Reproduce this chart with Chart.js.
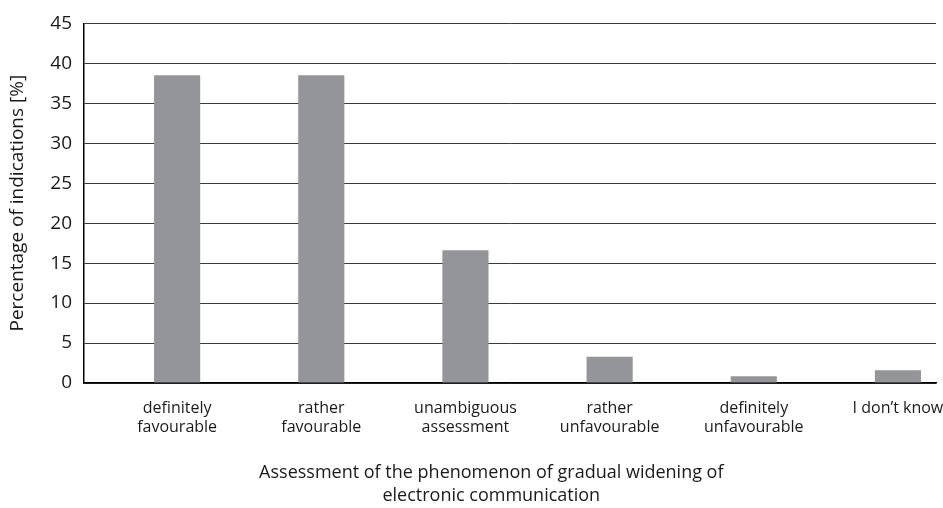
<!DOCTYPE html>
<html>
<head>
<meta charset="utf-8">
<script src="https://cdn.jsdelivr.net/npm/chart.js@4.4.0/dist/chart.umd.min.js"></script>
<style>
    html, body { margin: 0; padding: 0; background: #fff; }
    #wrap { width: 943px; height: 508px; }
</style>
</head>
<body>
<div id="wrap"><canvas id="assessmentChart" width="943" height="508"></canvas></div>
<script>
    // Categories (two-line labels) and values
    const categories = [
        ['definitely', 'favourable'],
        ['rather', 'favourable'],
        ['unambiguous', 'assessment'],
        ['rather', 'unfavourable'],
        ['definitely', 'unfavourable'],
        ['I don\u2019t know']
    ];
    const percentages = [38.5, 38.5, 16.6, 3.3, 0.85, 1.6];
    const yTicks = [0, 5, 10, 15, 20, 25, 30, 35, 40, 45];
    // the plot area in the source is not symmetric around the bars
    const xRange = { min: -0.646, max: 5.264 };

    const fontFamily = '"Open Sans", "Noto Sans", sans-serif';
    const pad = '\u00A0'.repeat(8);  // nudges the axis title a bit left, as in the source

    const points = percentages.map((v, i) => ({ x: i, y: v }));

    const chartContext = document.getElementById('assessmentChart').getContext('2d');
    new Chart(chartContext, {
        type: 'bar',
        data: {
            datasets: [{
                data: points,
                backgroundColor: '#949599',
                borderWidth: 0,
                categoryPercentage: 1,
                barPercentage: 0.32
            }]
        },
        options: {
            responsive: false,
            animation: false,
            layout: { padding: { top: 18, right: 7, bottom: 0, left: 0 } },
            plugins: { legend: { display: false }, tooltip: { enabled: false } },
            scales: {
                x: {
                    type: 'linear',
                    min: xRange.min,
                    max: xRange.max,
                    offset: false,
                    afterBuildTicks: (scale) => { scale.ticks = categories.map((c, i) => ({ value: i })); },
                    grid: { display: false, drawTicks: false },
                    border: { display: true, color: '#000', width: 1.5 },
                    ticks: {
                        color: '#1a1a1a',
                        font: { family: fontFamily, size: 16 },
                        maxRotation: 0,
                        autoSkip: false,
                        padding: 16,
                        callback: (value) => categories[value]
                    },
                    title: {
                        display: true,
                        text: ['Assessment of the phenomenon of gradual widening of' + pad, 'electronic communication' + pad],
                        color: '#1a1a1a',
                        font: { family: fontFamily, size: 18, lineHeight: 1.3 },
                        padding: { top: 24, bottom: 0 }
                    },
                    afterFit: (scale) => {
                        scale.height = 125;
                        scale.paddingLeft = 0;
                        scale.paddingRight = 0;
                    }
                },
                y: {
                    min: 0,
                    max: 45,
                    afterBuildTicks: (scale) => { scale.ticks = yTicks.map(v => ({ value: v })); },
                    grid: { color: '#3a3a3a', lineWidth: 1, drawTicks: false },
                    border: { display: true, color: '#000', width: 1.5 },
                    ticks: {
                        color: '#1a1a1a',
                        font: { family: fontFamily, size: 19 },
                        padding: 12
                    },
                    title: {
                        display: true,
                        text: 'Percentage of indications [%]',
                        color: '#1a1a1a',
                        font: { family: fontFamily, size: 19 },
                        padding: { top: 6, bottom: 4 }
                    },
                    afterFit: (scale) => { scale.width = 84; }
                }
            }
        }
    });
</script>
</body>
</html>
